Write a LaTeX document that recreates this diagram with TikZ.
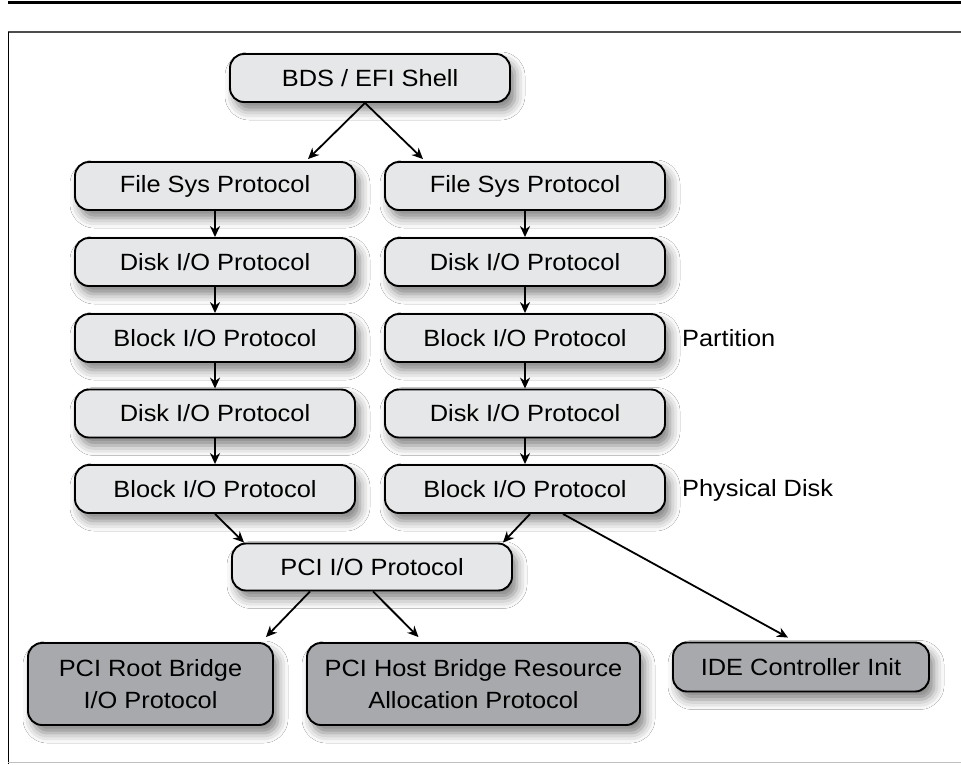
\documentclass[tikz,border=0pt]{standalone}
\usepackage{fontspec}
\setmainfont{Liberation Sans}[FakeStretch=1.08]
\usetikzlibrary{arrows.meta,shadows.blur,calc}
\definecolor{lightfill}{HTML}{E6E7E8}
\definecolor{darkfill}{HTML}{A7A9AC}
\begin{document}
\begin{tikzpicture}[x=1pt,y=-1pt,
  box/.style={draw=black, line width=1.9pt, rounded corners=14pt, fill=lightfill,
    minimum width=280pt, minimum height=48pt, inner sep=0pt,
    font=\fontsize{23.5}{32}\selectfont, align=center,
    blur shadow={shadow xshift=5pt, shadow yshift=-8pt, shadow blur radius=10pt, shadow opacity=50}},
  dbox/.style={box, fill=darkfill},
  lab/.style={font=\fontsize{23.5}{32}\selectfont, anchor=west, inner sep=0pt},
  arr/.style={line width=1.8pt, -{Stealth[length=11pt,width=10pt]}}
]
\useasboundingbox (0,0) rectangle (961,764);
\fill[white] (0,0) rectangle (961,764);
% frame
\draw[line width=3pt] (8,2) -- (961,2);
\draw[line width=1.5pt, black!70] (8,32) -- (961,32);
\draw[line width=1pt] (8.5,32) -- (8.5,764);
\draw[line width=1pt, black!25] (8,762.5) -- (961,762.5);

% nodes
\node[box] (bds) at (370,78) {BDS / EFI Shell};
\node[box] (fsl) at (215,186) {File Sys Protocol};
\node[box] (dl1) at (215,262) {Disk I/O Protocol};
\node[box] (bl1) at (215,338) {Block I/O Protocol};
\node[box] (dl2) at (215,413.5) {Disk I/O Protocol};
\node[box] (bl2) at (215,489) {Block I/O Protocol};
\node[box] (fsr) at (525,186) {File Sys Protocol};
\node[box] (dr1) at (525,262) {Disk I/O Protocol};
\node[box] (br1) at (525,338) {Block I/O Protocol};
\node[box] (dr2) at (525,413.5) {Disk I/O Protocol};
\node[box] (br2) at (525,489) {Block I/O Protocol};
\node[box, minimum height=47pt] (pci) at (372,567) {PCI I/O Protocol};
\node[dbox, minimum width=245pt, minimum height=82pt] (root) at (150.5,684) {PCI Root Bridge\\I/O Protocol};
\node[dbox, minimum width=333pt, minimum height=82pt] (host) at (473.5,684) {PCI Host Bridge Resource\\Allocation Protocol};
\node[dbox, minimum width=256pt, minimum height=49pt] (ide) at (801,667) {IDE Controller Init};

\node[lab] (part) at (682,338) {Partition};
\node[lab] (phys) at (682,490) {Physical Disk};

% arrows
\draw[arr] ($(bds.south)+(-5,0)$) -- ($(fsl.north)+(93,-2)$);
\draw[arr] ($(bds.south)+(-5,0)$) -- ($(fsr.north)+(-102,-2)$);
\foreach \a/\b in {fsl/dl1,dl1/bl1,bl1/dl2,dl2/bl2,fsr/dr1,dr1/br1,br1/dr2,dr2/br2}
  \draw[arr] (\a.south) -- (\b.north);
\draw[arr] (bl2.south) -- ($(pci.north west)+(13,0)$);
\draw[arr] ($(br2.south)+(5,0)$) -- ($(pci.north east)+(-10,0)$);
\draw[arr] ($(pci.south)+(-62,0)$) -- ($(root.north east)+(-8,-5)$);
\draw[arr] ($(pci.south)+(1,0)$) -- ($(host.north)+(-55,-5)$);
\draw[arr] ($(br2.south)+(38,0)$) -- ($(ide.north)+(-13,-4)$);
\end{tikzpicture}
\end{document}
